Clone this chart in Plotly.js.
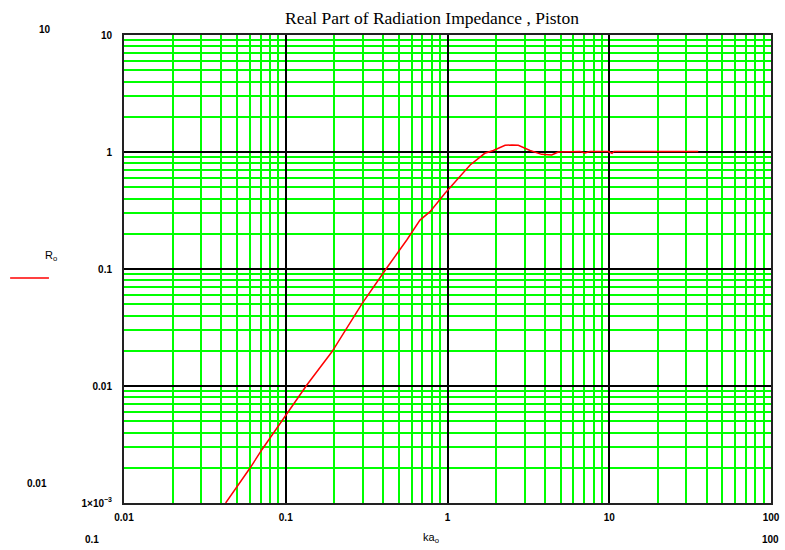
<!DOCTYPE html>
<html>
<head>
<meta charset="utf-8">
<script src="https://cdn.plot.ly/plotly-3.0.1.min.js"></script>
<style>
  html, body { margin: 0; padding: 0; background: #fff; }
  #chart { width: 785px; height: 550px; }
</style>
</head>
<body>
<div id="chart"></div>
<script>
// Values
const kaValues = [0.0425, 0.060, 0.071, 0.092, 0.135, 0.193, 0.297, 0.421, 0.560, 0.676, 0.780, 0.965,
                  1.14, 1.38, 1.70, 1.92, 2.27, 2.50, 2.74, 3.24, 3.82, 4.41, 4.84, 6.59, 7.08, 7.60,
                  9.87, 10.4, 10.7, 35.5];
const rValues  = [0.001, 0.00198, 0.00284, 0.0048, 0.0102, 0.0196, 0.0509, 0.102, 0.177, 0.262, 0.309, 0.444,
                  0.576, 0.774, 0.975, 1.03, 1.14, 1.15, 1.14, 1.03, 0.955, 0.942, 1.0, 1.01, 0.98, 1.01,
                  1.01, 0.975, 1.01, 1.01];

const xTickVals = [0.01, 0.1, 1, 10, 100];
const xTickText = ["0.01", "0.1", "1", "10", "100"];
const yTickVals = [0.001, 0.01, 0.1, 1, 10];
const yTickText = ["1\u00d710<sup>\u22123</sup>", "0.01", "0.1", "1", "10"];
const minorDigits = [2, 3, 4, 5, 6, 7, 8, 9];

function minorVals(decades) {
  const out = [];
  decades.forEach(d => minorDigits.forEach(m => out.push(d * m)));
  return out;
}
const xMinor = minorVals([0.01, 0.1, 1, 10]);
const yMinor = minorVals([0.001, 0.01, 0.1, 1]);

const tickFont = { family: "Liberation Sans", size: 10, color: "#000", weight: "bold" };
const green = "#00ff00";

const trace = {
  x: kaValues,
  y: rValues,
  xaxis: "x2",
  yaxis: "y2",
  type: "scatter",
  mode: "lines",
  line: { color: "#ff0000", width: 1.5 },
  hoverinfo: "skip",
  showlegend: false
};
// empty trace on the base (green grid) axes so that subplot exists
const baseTrace = { x: [null], y: [null], type: "scatter", mode: "lines", hoverinfo: "skip", showlegend: false };

function label(text, x, y, font) {
  return { text: text, xref: "paper", yref: "paper", x: x, y: y, xanchor: "center", yanchor: "middle",
           showarrow: false, font: font };
}
const labelFont = { family: "Liberation Sans", size: 11, color: "#000" };

const layout = {
  width: 785,
  height: 550,
  margin: { l: 124, r: 14, t: 35, b: 47, pad: 0 },
  paper_bgcolor: "#ffffff",
  plot_bgcolor: "#ffffff",
  showlegend: false,
  title: {
    text: "Real Part of Radiation Impedance , Piston",
    font: { family: "Liberation Serif", size: 17.5, color: "#000" },
    x: 0.476, xanchor: "center", xref: "paper",
    y: 0.967, yanchor: "middle", yref: "container"
  },
  xaxis: {
    type: "log", range: [-2, 2],
    tickmode: "array", tickvals: xMinor, showticklabels: false, ticks: "",
    showgrid: true, gridcolor: green, gridwidth: 2,
    showline: false, zeroline: false, fixedrange: true
  },
  yaxis: {
    type: "log", range: [-3, 1],
    tickmode: "array", tickvals: yMinor, showticklabels: false, ticks: "",
    showgrid: true, gridcolor: green, gridwidth: 2,
    showline: false, zeroline: false, fixedrange: true
  },
  xaxis2: {
    type: "log", range: [-2, 2], overlaying: "x", side: "bottom", anchor: "y2",
    tickmode: "array", tickvals: xTickVals, ticktext: xTickText, ticks: "",
    tickfont: tickFont, ticklabelstandoff: 4,
    showgrid: true, gridcolor: "#000000", gridwidth: 2,
    showline: true, linecolor: "#222", linewidth: 2, mirror: true,
    zeroline: false, fixedrange: true
  },
  yaxis2: {
    type: "log", range: [-3, 1], overlaying: "y", side: "left", anchor: "x2",
    tickmode: "array", tickvals: yTickVals, ticktext: yTickText, ticks: "",
    tickfont: tickFont, ticklabelstandoff: 8,
    showgrid: true, gridcolor: "#000000", gridwidth: 2,
    showline: true, linecolor: "#222", linewidth: 2, mirror: true,
    zeroline: false, fixedrange: true
  },
  shapes: [
    { type: "line", xref: "paper", yref: "paper", x0: -0.176, x1: -0.116, y0: 0.481, y1: 0.481,
      line: { color: "#ff0000", width: 1.5 } }
  ],
  annotations: [
    label("R<sub>o</sub>", -0.113, 0.527, labelFont),
    label("ka<sub>o</sub>", 0.474, -0.075, labelFont),
    label("10", -0.122, 1.0107, tickFont),
    label("0.01", -0.1345, 0.0406, tickFont),
    label("0.1", -0.0495, -0.079, tickFont),
    label("100", 0.9985, -0.079, tickFont)
  ]
};

Plotly.newPlot("chart", [baseTrace, trace], layout, { displayModeBar: false, staticPlot: true });
</script>
</body>
</html>
